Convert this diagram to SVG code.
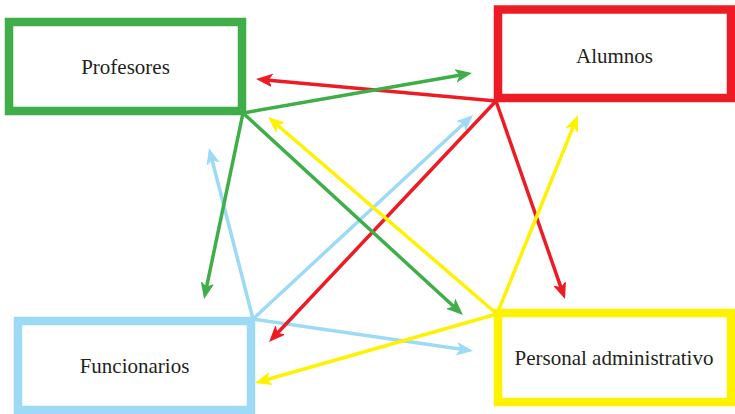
<svg xmlns="http://www.w3.org/2000/svg" width="735" height="414" viewBox="0 0 735 414">
<style>
.box{fill:#ffffff;stroke-width:8.5}
.lbl{font-family:"Liberation Serif","Times New Roman",serif;font-size:21px;fill:#231f20;text-anchor:middle}
.c{fill:none;stroke-width:3.5}
.g{stroke:#3fae49}.r{stroke:#ed1c24}.b{stroke:#9cdaf6}.y{stroke:#fff200}
</style>
<defs>
<marker id="ag" viewBox="0 -8 18 16" refX="6" refY="0" markerWidth="18" markerHeight="16" markerUnits="userSpaceOnUse" orient="auto"><path d="M16,0 L-1,-7 L3.5,0 L-1,7 Z" fill="#3fae49"/></marker>
<marker id="ar" viewBox="0 -8 18 16" refX="6" refY="0" markerWidth="18" markerHeight="16" markerUnits="userSpaceOnUse" orient="auto"><path d="M16,0 L-1,-7 L3.5,0 L-1,7 Z" fill="#ed1c24"/></marker>
<marker id="ab" viewBox="0 -8 18 16" refX="6" refY="0" markerWidth="18" markerHeight="16" markerUnits="userSpaceOnUse" orient="auto"><path d="M16,0 L-1,-7 L3.5,0 L-1,7 Z" fill="#9cdaf6"/></marker>
<marker id="ay" viewBox="0 -8 18 16" refX="6" refY="0" markerWidth="18" markerHeight="16" markerUnits="userSpaceOnUse" orient="auto"><path d="M16,0 L-1,-7 L3.5,0 L-1,7 Z" fill="#fff200"/></marker>
</defs>
<g id="profesores"><rect class="box" x="9" y="22" width="233" height="89" stroke="#3fae49"/><text class="lbl" x="125.5" y="74">Profesores</text></g>
<g id="alumnos"><rect class="box" x="498" y="9.5" width="233" height="88.5" stroke="#ed1c24"/><text class="lbl" x="614.5" y="63">Alumnos</text></g>
<g id="funcionarios"><rect class="box" x="18" y="321" width="233" height="89" stroke="#9cdaf6"/><text class="lbl" x="134.5" y="373">Funcionarios</text></g>
<g id="personal"><rect class="box" x="498" y="313" width="233" height="89" stroke="#fff200"/><text class="lbl" x="614" y="365">Personal administrativo</text></g>
<g id="connectors">
<line class="c b" x1="253" y1="319" x2="211.5" y2="157.7" marker-end="url(#ab)"/>
<line class="c b" x1="253" y1="319" x2="465.7" y2="121.8" marker-end="url(#ab)"/>
<line class="c b" x1="253" y1="319" x2="463.1" y2="349.6" marker-end="url(#ab)"/>
<line class="c r" x1="496" y1="101" x2="266" y2="79.9" marker-end="url(#ar)"/>
<line class="c r" x1="496" y1="101" x2="275.9" y2="334.7" marker-end="url(#ar)"/>
<line class="c r" x1="496" y1="101" x2="561.7" y2="289.6" marker-end="url(#ar)"/>
<line class="c g" x1="243" y1="113" x2="462.2" y2="74.7" marker-end="url(#ag)"/>
<line class="c g" x1="243" y1="113" x2="206.1" y2="289.2" marker-end="url(#ag)"/>
<line class="c g" x1="243" y1="113" x2="455.6" y2="308.2" marker-end="url(#ag)"/>
<line class="c y" x1="497" y1="314" x2="275.6" y2="123.5" marker-end="url(#ay)"/>
<line class="c y" x1="497" y1="314" x2="574.2" y2="124.3" marker-end="url(#ay)"/>
<line class="c y" x1="497" y1="314" x2="264.6" y2="380.3" marker-end="url(#ay)"/>
</g>
</svg>
